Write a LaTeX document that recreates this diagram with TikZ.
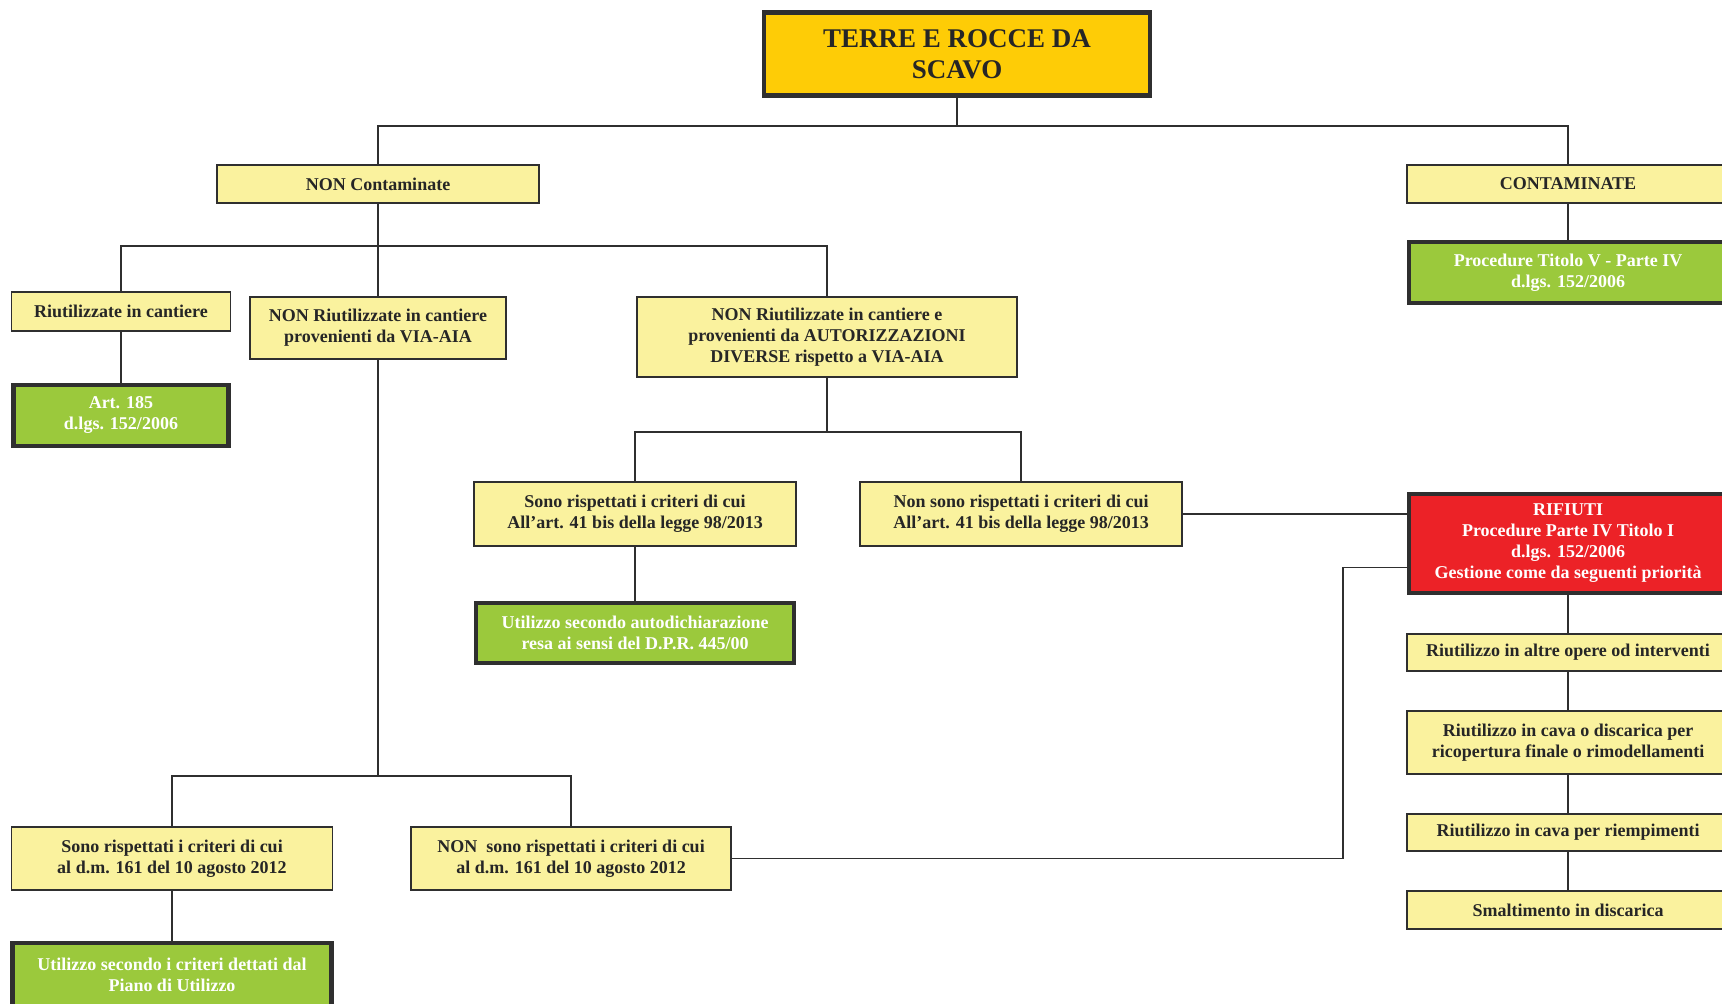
\documentclass[tikz,border=0pt]{standalone}
\usepackage{fontspec}
\setmainfont{Liberation Serif}
\usepackage{xcolor}
\definecolor{oro}{HTML}{FECC06}
\definecolor{giallo}{HTML}{FAF29E}
\definecolor{verde}{HTML}{9BC93C}
\definecolor{rosso}{HTML}{EC2227}
\definecolor{bordo}{HTML}{2F2F2F}

\begin{document}
\begin{tikzpicture}[x=0.5pt,y=-0.5pt,
    filo/.style={draw=bordo,line width=0.9pt},
    box/.style={draw=bordo,line width=0.9pt,fill=giallo,align=center,inner sep=0pt,
        font=\fontsize{9}{10.5}\selectfont\bfseries,text=black!85},
    verdebox/.style={box,fill=verde,line width=2.2pt,text=white},
    rossobox/.style={verdebox,fill=rosso},
    titolobox/.style={verdebox,fill=oro,text=black!85,font=\fontsize{13.5}{15.5}\selectfont\bfseries}]
            \useasboundingbox (0,0) rectangle (1722,1004);

            \node[titolobox, minimum width=193pt, minimum height=41.5pt] (terre) at (957,54) {TERRE E ROCCE DA\\SCAVO};

            \node[box, minimum width=161pt, minimum height=19pt] (noncont) at (378,184) {NON Contaminate};
            \node[box, minimum width=161pt, minimum height=19pt] (cont) at (1568,184) {CONTAMINATE};
            \node[verdebox, minimum width=159pt, minimum height=30.5pt] (titolov) at (1568,272.5) {Procedure Titolo V - Parte IV\\d.lgs. 152/2006};

            \node[box, minimum width=109.5pt, minimum height=19.5pt] (riut) at (121,311.5) {Riutilizzate in cantiere};
            \node[verdebox, minimum width=107.5pt, minimum height=30.5pt] (art) at (121,415.5) {Art. 185\\d.lgs. 152/2006};
            \node[box, minimum width=128pt, minimum height=31pt] (viaaia) at (378,328) {NON Riutilizzate in cantiere\\provenienti da VIA-AIA};
            \node[box, minimum width=190pt, minimum height=40pt] (autor) at (827,337) {NON Riutilizzate in cantiere e\\provenienti da AUTORIZZAZIONI\\DIVERSE rispetto a VIA-AIA};

            \node[box, minimum width=161pt, minimum height=32pt] (sileg) at (635,514) {Sono rispettati i criteri di cui\\All’art. 41 bis della legge 98/2013};
            \node[box, minimum width=161pt, minimum height=32pt] (noleg) at (1021,514) {Non sono rispettati i criteri di cui\\All’art. 41 bis della legge 98/2013};
            \node[verdebox, minimum width=159pt, minimum height=30pt] (autodich) at (635,633) {Utilizzo secondo autodichiarazione\\resa ai sensi del D.P.R. 445/00};

            \node[rossobox, minimum width=159pt, minimum height=49.5pt] (rifiuti) at (1568,543.5) {RIFIUTI\\Procedure Parte IV Titolo I\\d.lgs. 152/2006\\Gestione come da seguenti priorità};
            \node[box, minimum width=161pt, minimum height=18.5pt] (altre) at (1568,652.5) {Riutilizzo in altre opere od interventi};
            \node[box, minimum width=161pt, minimum height=31.5pt] (cava) at (1568,742.5) {Riutilizzo in cava o discarica per\\ricopertura finale o rimodellamenti};
            \node[box, minimum width=161pt, minimum height=18.5pt] (riemp) at (1568,832.5) {Riutilizzo in cava per riempimenti};
            \node[box, minimum width=161pt, minimum height=19pt] (smalt) at (1568,910) {Smaltimento in discarica};

            \node[box, minimum width=160.5pt, minimum height=31.5pt] (sidm) at (172,858.5) {Sono rispettati i criteri di cui\\al d.m. 161 del 10 agosto 2012};
            \node[box, minimum width=160pt, minimum height=31.5pt] (nodm) at (571,858.5) {NON\ \ sono rispettati i criteri di cui\\al d.m. 161 del 10 agosto 2012};
            \node[verdebox, minimum width=159.5pt, minimum height=32pt] (piano) at (172,975) {Utilizzo secondo i criteri dettati dal\\Piano di Utilizzo};

            \draw[filo] (terre.south) -- ++(0,28) coordinate (b0);
            \draw[filo] (b0) -| (noncont.north);
            \draw[filo] (b0) -| (cont.north);
            \draw[filo] (cont.south) -- (titolov.north);

            \draw[filo] (noncont.south) -- ++(0,42) coordinate (b1);
            \draw[filo] (b1) -| (riut.north);
            \draw[filo] (b1) -- (viaaia.north);
            \draw[filo] (b1) -| (autor.north);
            \draw[filo] (riut.south) -- (art.north);

            \draw[filo] (autor.south) -- ++(0,54) coordinate (b2);
            \draw[filo] (b2) -| (sileg.north);
            \draw[filo] (b2) -| (noleg.north);
            \draw[filo] (sileg.south) -- (autodich.north);
            \draw[filo] (noleg.east) -- (noleg.east -| rifiuti.west);

            \draw[filo] (viaaia.south) -- ++(0,416) coordinate (b3);
            \draw[filo] (b3) -| (sidm.north);
            \draw[filo] (b3) -| (nodm.north);
            \draw[filo] (sidm.south) -- (piano.north);
            \draw[filo] (nodm.east) -- ++(611,0) |- ([yshift=-12pt]rifiuti.west);

            \draw[filo] (rifiuti.south) -- (altre.north);
            \draw[filo] (altre.south) -- (cava.north);
            \draw[filo] (cava.south) -- (riemp.north);
            \draw[filo] (riemp.south) -- (smalt.north);
        \end{tikzpicture}
\end{document}
